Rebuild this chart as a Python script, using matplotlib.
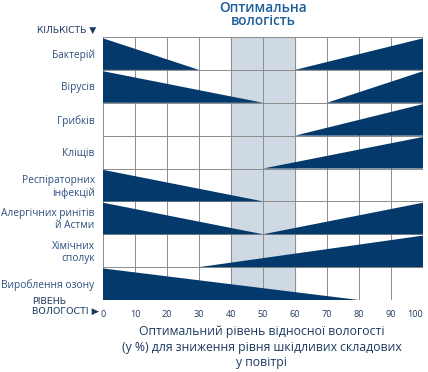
import matplotlib.pyplot as plt
from matplotlib.patches import Polygon

plt.rcParams['font.family'] = ['Open Sans', 'DejaVu Sans']

# rows from top to bottom
categories = ['Бактерій', 'Вірусів', 'Грибків', 'Кліщів',
              'Респіраторних\nінфекцій', 'Алергічних ринітів\nй Астми',
              'Хімічних\nсполук', 'Вироблення озону']
# humidity where the falling (left) wedge ends, None = no wedge
left_end = [30, 50, None, None, 50, 50, None, 80]
# humidity where the rising (right) wedge starts, None = no wedge
right_start = [60, 70, 60, 50, None, 50, 30, None]
optimal = (40, 60)
xticks = list(range(0, 101, 10))

navy = '#033a6b'
band = '#cfd9e3'
label_col = '#2c4f7e'
title_col = '#1f5e9b'
dark = '#1d3a60'

fig = plt.figure(figsize=(4.28, 3.72), dpi=100)
ax = fig.add_axes([0.2407, 0.1935, 0.7477, 0.707])
n = len(categories)
ax.set_xlim(0, 100)
ax.set_ylim(n, 0)

ax.axvspan(optimal[0], optimal[1], color=band, zorder=0)
for x in xticks:
    ax.axvline(x, color='#8c8c8c', lw=0.7, zorder=1)
for y in range(n + 1):
    ax.axhline(y, color='#8c8c8c', lw=0.7, zorder=1)

gap = 0.04
for i in range(n):
    top, bot = i + gap, i + 1
    if left_end[i] is not None:
        ax.add_patch(Polygon([(0, top), (left_end[i], bot), (0, bot)],
                             closed=True, fc=navy, ec='none', zorder=2))
    if right_start[i] is not None:
        ax.add_patch(Polygon([(right_start[i], bot), (100, top), (100, bot)],
                             closed=True, fc=navy, ec='none', zorder=2))

for s in ax.spines.values():
    s.set_visible(False)
ax.set_xticks(xticks)
ax.set_xticklabels([str(v) for v in xticks], fontsize=6.6, color=dark)
ax.get_xticklabels()[-1].set_horizontalalignment('right')
ax.tick_params(axis='x', length=0, pad=7)
ax.set_yticks([i + 0.5 for i in range(n)])
ax.set_yticklabels(categories, fontsize=7.3, color=label_col, linespacing=1.1,
                   fontweight='medium')
ax.tick_params(axis='y', length=0, pad=6)

ax.text(-0.02, 1.025, 'КІЛЬКІСТЬ ▼', transform=ax.transAxes, ha='right',
        va='center', fontsize=6.6, color=dark, family=['DejaVu Sans'])
fig.text(0.075, 0.176, 'РІВЕНЬ\nВОЛОГОСТІ ▶', ha='left', va='center',
         fontsize=6.8, color=dark, linespacing=1.1, family=['DejaVu Sans'])

ax.text(50, -0.26, 'Оптимальна\nвологість', ha='center', va='bottom',
        fontsize=9.8, color=title_col, linespacing=0.95, fontweight='semibold')

fig.text(0.612, 0.067, 'Оптимальний рівень відносної вологості\n'
         '(у %) для зниження рівня шкідливих складових\nу повітрі',
         ha='center', va='center', fontsize=8.8, color=dark,
         linespacing=1.25)

fig.savefig('out.png', dpi=100)
